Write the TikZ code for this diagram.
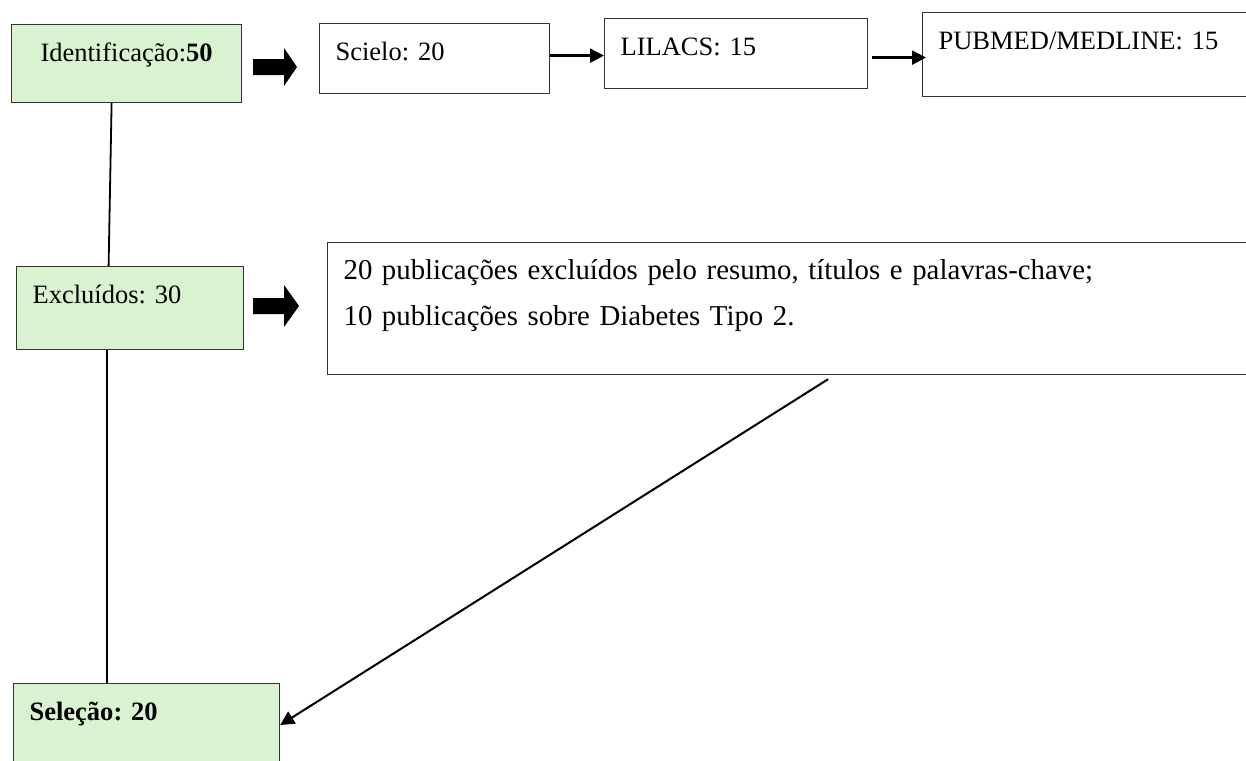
\documentclass[tikz,border=0pt]{standalone}
\usepackage{fontspec}
\setmainfont{Liberation Serif}
\usetikzlibrary{positioning, arrows.meta, calc}
\definecolor{cStage}{HTML}{D9F2D0}
\definecolor{cEdge}{HTML}{333333}

\begin{document}
\begin{tikzpicture}[
  x=0.5pt, y=-0.5pt,
  font=\fontsize{13.25pt}{23pt}\selectfont\frenchspacing,
  >={Triangle[length=7pt, width=7pt]},
  box/.style={draw=cEdge, line width=0.6pt, anchor=north west,
              inner ysep=0pt, inner xsep=8pt, align=left,
              text height=18.5pt},
  stage/.style={box, fill=cStage},
  flowarr/.style={->, draw=black, line width=1.2pt},
  link/.style={draw=black, line width=0.9pt},
]
\clip (0,0) rectangle (1246,760);

% ---- Identification row ------------------------------------------------
\node[stage, align=center, text width=99pt, text depth=20.5pt] (ident) at (11,24)
  {Identificação:\textbf{50}};
\node[box, text width=99pt, text depth=16.5pt] (scielo) at (319,23) {Scielo: 20};
\node[box, text width=115.5pt, text depth=16.5pt] (lilacs) at (604,18) {LILACS: 15};
\node[box, text width=153pt, text depth=23.5pt] (pubmed) at (922,12)
  {PUBMED/MEDLINE: 15};

\draw[flowarr] ([yshift=1.5pt]scielo.east) -- ([yshift=1.5pt]scielo.east -| lilacs.west);
\draw[flowarr] ([xshift=2pt,yshift=-2pt]lilacs.east)
  -- ([xshift=2pt,yshift=-2pt]lilacs.east -| pubmed.west);

% ---- Exclusion row -----------------------------------------------------
\node[stage, text width=97.5pt, text depth=23pt] (excl) at (16,266) {Excluídos: 30};
\node[box, text width=450.5pt, text depth=47.5pt,
      font=\fontsize{14.4pt}{23pt}\selectfont\frenchspacing] (motivos) at (327,242)
  {20 publicações excluídos pelo resumo, títulos e palavras-chave;\\
   10 publicações sobre Diabetes Tipo 2.};

% fat arrows pointing right of the two green boxes
\foreach \y/\h/\tip in {67/19/297, 306/21/299}
  \fill[black] (253,\y-8) -- (284,\y-8) -- (284,\y-\h) -- (\tip,\y)
    -- (284,\y+\h) -- (284,\y+8) -- (253,\y+8) -- cycle;

% ---- Selection ---------------------------------------------------------
\node[stage, text width=117pt, text depth=40pt] (selecao) at (13,683)
  {\textbf{Seleção: 20}};

\draw[link] ([xshift=-7.5pt]ident.south) -- ([xshift=-10.75pt]excl.north);
\draw[link] ([xshift=-11.75pt]excl.south) -- ([xshift=-20pt]selecao.north);
\draw[flowarr, line width=1pt] ([xshift=17pt,yshift=-2pt]motivos.south)
  -- ([yshift=-21pt]selecao.north east);

\end{tikzpicture}
\end{document}
